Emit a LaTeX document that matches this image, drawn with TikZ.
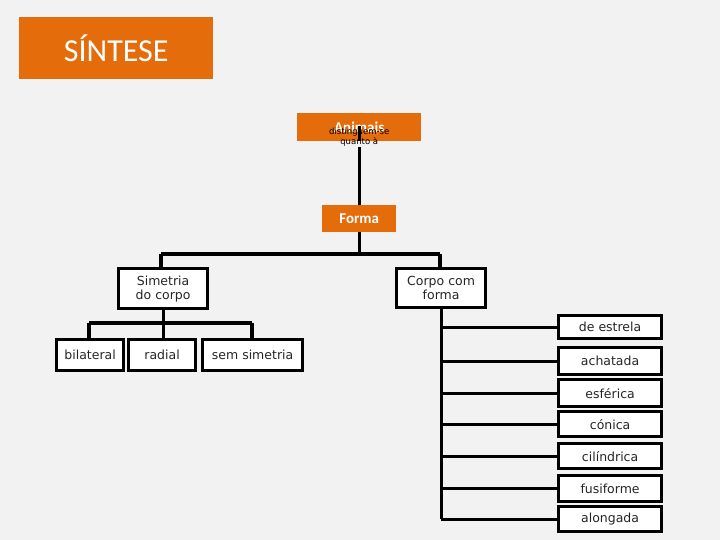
\documentclass[tikz,border=0pt]{standalone}
\usepackage{fontspec}
\setmainfont{DejaVu Sans}
\newfontfamily\carl{Carlito}
\definecolor{org}{HTML}{E46C0A}
\begin{document}
\begin{tikzpicture}[x=1pt,y=-1pt,
 ob/.style={fill=org,text=white,font=\carl\bfseries\fontsize{15}{17}\selectfont,inner sep=0pt,anchor=north west},
 bx/.style={draw=black,line width=3.2pt,fill=white,inner sep=0pt,anchor=north west,align=center,font=\fontsize{12.5}{14}\selectfont\color{black!85}},
 ln/.style={line width=3.2pt}]
\fill[white!95!black] (0,0) rectangle (720,540);
\node[ob,minimum width=194pt,minimum height=62pt,font=\carl\fontsize{32}{36}\selectfont] (t) at (19,17) {SÍNTESE};
\node[ob,minimum width=124pt,minimum height=28pt] (an) at (297,113) {Animais};
\node[font=\fontsize{8.5}{10}\selectfont,align=center,inner sep=1pt,anchor=north] (lb) at ([yshift=15pt]an.south) {distinguem-se\\quanto à};
\node[ob,minimum width=74pt,minimum height=27pt] (fo) at (322,205) {Forma};
\draw[ln] (an.south) -- (lb.north);
\draw[ln] (lb.south) -- (lb.south |- fo.north);
\coordinate (h1) at (161,254); \coordinate (h2) at (440,254);
\draw[ln] (fo.south) -- (fo.south |- h1);
\draw[ln] (h1) -- (h2);
\node[bx,minimum width=89pt,minimum height=40pt] (si) at (117,267) {Simetria\\do corpo};
\node[bx,minimum width=89pt,minimum height=39pt] (co) at (395,267) {Corpo com\\forma};
\draw[ln] (h1) -- (h1 |- si.north); \draw[ln] (h2) -- (h2 |- co.north);
\coordinate (s1) at (89,323); \coordinate (s2) at (252,323);
\draw[ln] (si.south) -- (si.south |- s1); \draw[ln] (s1) -- (s2);
\node[bx,minimum width=67pt,minimum height=31pt] (bi) at (55,338) {bilateral};
\node[bx,minimum width=67pt,minimum height=31pt] (ra) at (127,338) {radial};
\node[bx,minimum width=100pt,minimum height=31pt] (se) at (201,338) {sem simetria};
\draw[ln] (s1) -- (s1 |- bi.north); \draw[ln] (si.south |- s1) -- (si.south |- ra.north); \draw[ln] (s2) -- (s2 |- se.north);
\coordinate (vb) at (co.south |- 0,519);
\draw[ln] (co.south) -- (vb);
\foreach \n/\t/\y/\h in {e/de estrela/314/23, a/achatada/346/27, es/esférica/378/27, c/cónica/410/25, ci/cilíndrica/442/25, f/fusiforme/474/26, al/alongada/505/25}{
 \node[bx,minimum width=103pt,minimum height=\h pt] (\n) at (557,\y) {\t};
 \draw[ln] (\n.west) -- (\n.west -| vb);
}
\end{tikzpicture}
\end{document}
